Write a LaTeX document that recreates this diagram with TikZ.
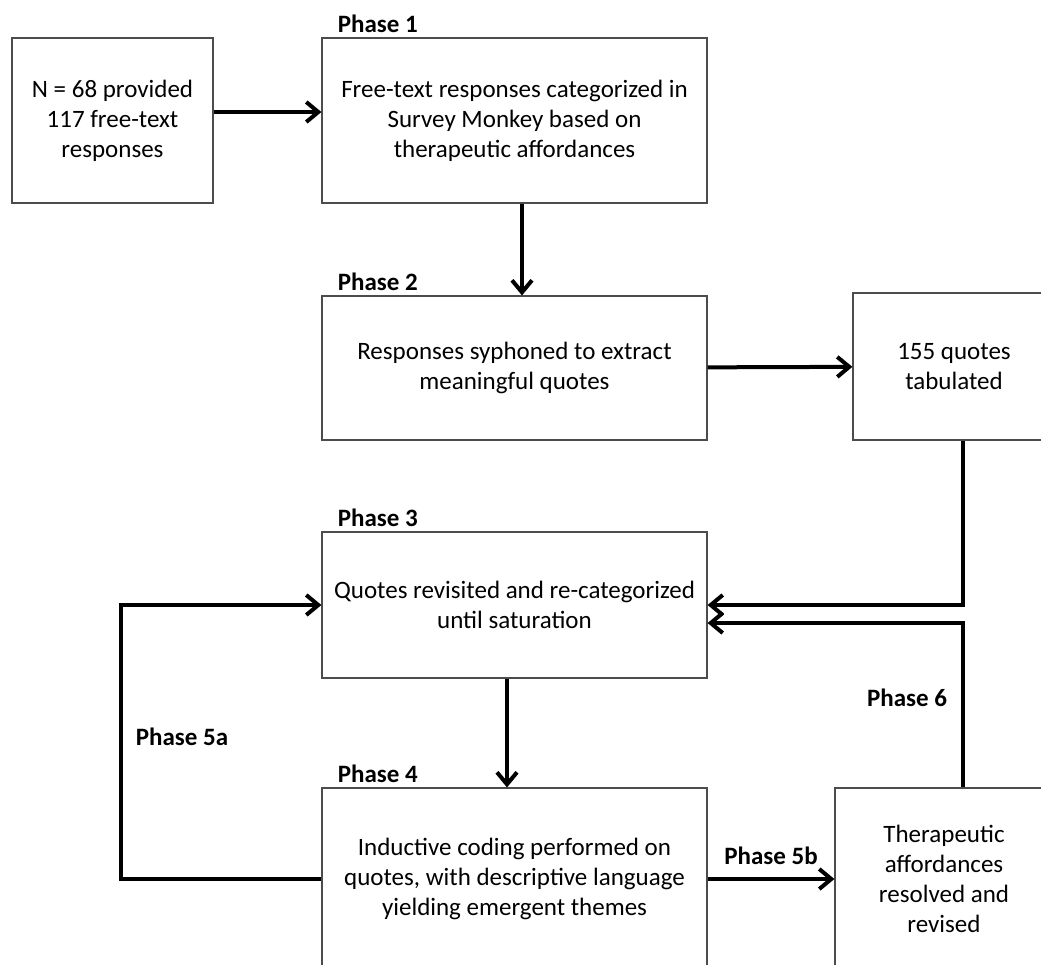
\documentclass[tikz,border=0pt]{standalone}
\usepackage{fontspec}
\setmainfont{Carlito}
\usetikzlibrary{arrows.meta}
\tikzstyle{block} = [rectangle, draw=black!70, line width=0.6pt, align=center, inner sep=2pt, font=\fontsize{12.5}{15}\selectfont]
\tikzstyle{line} = [draw, line width=2pt, -{Straight Barb[length=6pt,width=10pt]}]
\tikzstyle{phase} = [font=\fontsize{12.5}{15}\selectfont\bfseries, inner sep=0pt]

\begin{document}
\begin{tikzpicture}[x=0.5pt, y=-0.5pt]
        \useasboundingbox (0,0) rectangle (1041,965);
        \clip (0,0) rectangle (1041,965);
        % Nodos
        \node [block, minimum width=100.5pt, minimum height=82.5pt] (resp) at (112.5,120.5) {N = 68 provided\\117 free-text\\responses};
        \node [block, minimum width=192.5pt, minimum height=82.5pt] (cat) at (514.5,120.5) {Free-text responses categorized in\\Survey Monkey based on\\therapeutic affordances};
        \node [block, minimum width=192.5pt, minimum height=72pt] (syph) at (514.5,368) {Responses syphoned to extract\\meaningful quotes};
        \node [block, minimum width=101pt, minimum height=73.5pt] (tab) at (954,366.5) {155 quotes\\tabulated};
        \node [block, minimum width=192.5pt, minimum height=73pt] (cyc) at (514.5,605) {Quotes revisited and re-categorized\\until saturation};
        \node [block, minimum width=192.5pt, minimum height=91pt] (code) at (514.5,879) {Inductive coding performed on\\quotes, with descriptive language\\yielding emergent themes};
        \node [block, minimum width=109pt, minimum height=91pt] (thera) at (944,879) {Therapeutic\\affordances\\resolved and\\revised};

        % Etiquetas
        \node [phase, anchor=base west] (ph1) at ([xshift=8pt,yshift=2.5pt]cat.north west) {Phase 1};
        \node [phase, anchor=base west] (ph2) at ([xshift=8pt,yshift=2.5pt]syph.north west) {Phase 2};
        \node [phase, anchor=base west] (ph3) at ([xshift=8pt,yshift=2.5pt]cyc.north west) {Phase 3};
        \node [phase, anchor=base west] (ph4) at ([xshift=8pt,yshift=2.5pt]code.north west) {Phase 4};
        \node [phase] (ph5a) at (182,737) {Phase 5a};
        \node [phase] (ph6) at (907,698) {Phase 6};

        % Líneas
        \path [line] ([yshift=4.25pt]resp.east) -- ([yshift=4.25pt]cat.west);
        \path [line] ([xshift=3.75pt]cat.south) -- ([xshift=3.75pt]syph.north);
        \path [line] (syph) -- (tab);
        \path [line] ([xshift=4.5pt]tab.south) |- (cyc.east);
        \path [line] ([xshift=-3.75pt]cyc.south) -- ([xshift=-3.75pt]code.north);
        \path [line] (code.west) -- ++(-200,0) |- (cyc.west);
        \path [line] (code) -- node [phase, above=6pt] (ph5b) {Phase 5b} (thera);
        \path [line] ([xshift=9.5pt]thera.north) |- ([yshift=-9pt]cyc.east);
    \end{tikzpicture}
\end{document}
